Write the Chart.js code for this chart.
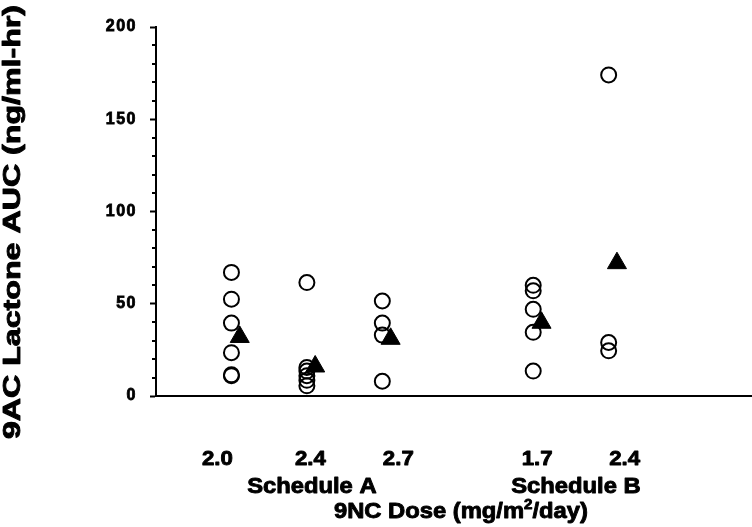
<!DOCTYPE html><html>
<meta charset="UTF-8">
<script src="https://cdn.jsdelivr.net/npm/chart.js@4/dist/chart.umd.min.js"></script>
<style>
 body{margin:0;background:#fff}
 #wrap{width:752px;height:527px}
</style>
<div id="wrap"><canvas id="auc_chart" width="752" height="527"></canvas></div>
<script>
// dose groups along the bottom, with the schedule each belongs to
var doses = ['2.0', '2.4', '2.7', '1.7', '2.4'];
var schedules = ['A', 'A', 'A', 'B', 'B'];
var scheduleNames = {A: 'Schedule A', B: 'Schedule B'};

// individual patient AUC values (ng/ml-hr), one array per dose group
var aucA20 = [67, 52.5, 39.5, 23.5, 11.5, 11];
var aucA24 = [61.5, 15.5, 13.5, 11, 8.5, 5.5];
var aucA27 = [51.5, 39.5, 33, 8];
var aucB17 = [60, 57, 47, 34.5, 13.5];
var aucB24 = [174, 29, 24.5];
var groupMeans = [32, 16, 31, 39.7, 72];

var yTicks = [0, 50, 100, 150, 200];

var xTitle = ['9NC Dose (mg/m', '2', '/day)'];
var yTitle = '9AC Lactone AUC (ng/ml-hr)';

// layout only
var groupGap = 1;          // extra slot between schedule A and B
var meanShift = 0.11;      // triangles drawn just right of the circles
var labelNudge = [-14, 3.5, 16, 4, 16];
var FONT = '"Liberation Sans", Arial, sans-serif';
var HEAVY = 0.9;           // extra stroke to match the heavy bold lettering

var groups = [aucA20, aucA24, aucA27, aucB17, aucB24];
function slot(i){ return i + 1 + (schedules[i] === 'B' ? groupGap : 0); }

var pts = [], means = [];
groups.forEach(function(g, i){
  g.forEach(function(v){ pts.push({x: slot(i), y: v}); });
  means.push({x: slot(i) + meanShift, y: groupMeans[i]});
});

function wideText(ctx, txt, x, y, sx){
  ctx.save();
  ctx.translate(x, y);
  ctx.scale(sx, 1);
  ctx.textAlign = 'center';
  ctx.fillText(txt, 0, 0);
  ctx.strokeText(txt, 0, 0);
  ctx.restore();
}

var extras = {
  id: 'extras',
  beforeDraw: function(chart){ chart.ctx.letterSpacing = '1.5px'; },
  afterDraw: function(chart){
    var ctx = chart.ctx, xs = chart.scales.x, ys = chart.scales.y;
    ctx.save();
    ctx.letterSpacing = '0px';
    // minor ticks on the y axis
    ctx.strokeStyle = '#000';
    ctx.lineWidth = 2;
    for (var v = 10; v < 200; v += 10) {
      if (v % 50 === 0) continue;
      var py = Math.round(ys.getPixelForValue(v));
      ctx.beginPath();
      ctx.moveTo(xs.left - 4, py);
      ctx.lineTo(xs.left, py);
      ctx.stroke();
    }
    ctx.fillStyle = '#000';
    ctx.lineWidth = HEAVY;
    ctx.lineJoin = 'round';
    ctx.textBaseline = 'alphabetic';
    // dose labels
    ctx.font = 'bold 21px ' + FONT;
    doses.forEach(function(d, i){
      wideText(ctx, d, xs.getPixelForValue(slot(i)) + labelNudge[i], 465, 1.06);
    });
    // schedule labels, centred under the middle slot of each schedule
    ctx.font = 'bold 22px ' + FONT;
    var centres = {};
    ['A', 'B'].forEach(function(s){
      var sl = [];
      schedules.forEach(function(t, i){ if (t === s) sl.push(slot(i)); });
      var mid = (sl[0] + sl[sl.length - 1]) / 2;
      centres[s] = xs.getPixelForValue(mid) + 5;
      wideText(ctx, scheduleNames[s], centres[s], 493, 1.08);
    });
    // x title with superscript
    var f1 = 'bold 22px ' + FONT;
    var f2 = 'bold 14px ' + FONT;
    var sx = 1.08;
    ctx.font = f1; var w1 = ctx.measureText(xTitle[0]).width, w3 = ctx.measureText(xTitle[2]).width;
    ctx.font = f2; var w2 = ctx.measureText(xTitle[1]).width;
    var total = (w1 + w2 + w3) * sx;
    var cx = (centres.A + centres.B) / 2 + 17;
    ctx.save();
    ctx.translate(cx - total / 2, 518);
    ctx.scale(sx, 1);
    ctx.textAlign = 'left';
    ctx.font = f1; ctx.fillText(xTitle[0], 0, 0); ctx.strokeText(xTitle[0], 0, 0);
    ctx.font = f2; ctx.fillText(xTitle[1], w1, -9); ctx.strokeText(xTitle[1], w1, -9);
    ctx.font = f1; ctx.fillText(xTitle[2], w1 + w2, 0); ctx.strokeText(xTitle[2], w1 + w2, 0);
    ctx.restore();
    // y title
    ctx.font = 'bold 24px ' + FONT;
    ctx.save();
    ctx.translate(20, 222);
    ctx.rotate(-Math.PI / 2);
    ctx.scale(1.34, 1);
    ctx.textAlign = 'center';
    ctx.fillText(yTitle, 0, 0);
    ctx.strokeText(yTitle, 0, 0);
    ctx.restore();
    ctx.restore();
  }
};

new Chart(document.getElementById('auc_chart'), {
  type: 'scatter',
  data: {
    datasets: [{
      label: 'mean',
      data: means,
      order: 0,
      pointStyle: 'triangle',
      pointRadius: 11,
      backgroundColor: '#000',
      borderColor: '#000',
      borderWidth: 1
    }, {
      label: 'patients',
      data: pts,
      order: 1,
      pointStyle: 'circle',
      pointRadius: 7.5,
      backgroundColor: 'rgba(0,0,0,0)',
      borderColor: '#000',
      borderWidth: 2
    }]
  },
  options: {
    responsive: false,
    animation: false,
    layout: {autoPadding: false, padding: {top: 27, left: 0, right: 0, bottom: 0}},
    plugins: {legend: {display: false}, tooltip: {enabled: false}},
    scales: {
      x: {
        type: 'linear', min: 0, max: 7.9,
        ticks: {display: false},
        grid: {display: true, drawOnChartArea: false, drawTicks: false},
        border: {display: true, color: '#000', width: 2},
        afterFit: function(s){ s.height = 131; }
      },
      y: {
        min: 0, max: 200,
        afterBuildTicks: function(s){ s.ticks = yTicks.map(function(v){ return {value: v}; }); },
        ticks: {color: '#000', padding: 13, textStrokeColor: '#000', textStrokeWidth: 0.8,
                font: {family: FONT, size: 16, weight: 'bold'}},
        grid: {drawOnChartArea: false, tickLength: 6, tickWidth: 2, tickColor: '#000'},
        border: {display: true, color: '#000', width: 2},
        afterFit: function(s){ s.width = 156; }
      }
    }
  },
  plugins: [extras]
});
</script>
</html>
